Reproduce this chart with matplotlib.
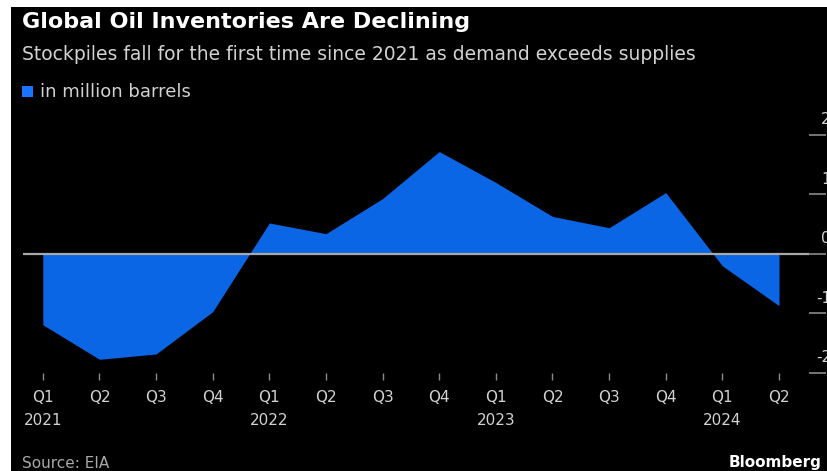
"""Global oil inventories: quarterly stock change area chart (Bloomberg style)."""

import matplotlib.pyplot as plt
from matplotlib.patches import Rectangle

quarters = ["Q1", "Q2", "Q3", "Q4"] * 3 + ["Q1", "Q2"]
years = ["2021", "", "", "", "2022", "", "", "", "2023", "", "", "", "2024", ""]
stock_change = [-1.19, -1.77, -1.68, -0.97, 0.52, 0.34, 0.93, 1.72,
                1.20, 0.63, 0.44, 1.03, -0.20, -0.87]
y_ticks = [-2, -1, 0, 1, 2]

BLUE = "#0a66e4"
TEXT = "#d2d2d2"
GREY = "#8a8a8a"

W, H = 827, 471
fig = plt.figure(figsize=(W / 100, H / 100), dpi=100, facecolor="white")
# black card, with the thin white margin at top/left seen in the screenshot
fig.patches.append(Rectangle((11 / W, 0), 1, (H - 7) / H, transform=fig.transFigure,
                             facecolor="black", edgecolor="none", zorder=-10))

ax = fig.add_axes([23 / W, (H - 373) / H, (809 - 23) / W, (373 - 117) / H])
ax.set_zorder(2)
ax.set_facecolor("none")
x = list(range(len(stock_change)))
ax.fill_between(x, stock_change, 0, color=BLUE, linewidth=0, zorder=2)
ax.axhline(0, color="#a8a8a8", linewidth=1.6, zorder=3)

ax.set_xlim(-0.35, 13.53)
ax.set_ylim(-2.0, 2.3)
for s in ax.spines.values():
    s.set_visible(False)

ax.set_xticks(x)
ax.set_xticklabels([f"{q}\n{y}" for q, y in zip(quarters, years)],
                   color=TEXT, fontsize=11, linespacing=1.7)
ax.tick_params(axis="x", length=5, width=1, color=GREY, pad=7)

ax.yaxis.tick_right()
ax.set_yticks(y_ticks)
ax.tick_params(axis="y", length=12.5, width=1.2, color=GREY, labelright=False)
# labels sit above their tick line, right-aligned just past the picture edge
for v in y_ticks:
    ax.annotate(f"{v}", xy=(1, v), xycoords=("axes fraction", "data"),
                xytext=(22, 15), textcoords="offset pixels",
                ha="right", va="center", color=TEXT, fontsize=11,
                annotation_clip=False)

fig.text(22 / W, 1 - 22 / H, "Global Oil Inventories Are Declining",
         color="white", fontsize=16, fontweight="bold", va="center")
fig.text(22 / W, 1 - 55 / H,
         "Stockpiles fall for the first time since 2021 as demand exceeds supplies",
         color=TEXT, fontsize=13.5, va="center")
fig.patches.append(Rectangle((22 / W, 1 - 97 / H), 11 / W, 11 / H,
                             transform=fig.transFigure, facecolor="#1a74ff",
                             edgecolor="none"))
fig.text(40 / W, 1 - 92 / H, "in million barrels", color=TEXT, fontsize=13,
         va="center")
fig.text(22 / W, 1 - 463 / H, "Source: EIA", color="#a8a8a8", fontsize=11,
         va="center")
fig.text(822 / W, 1 - 462 / H, "Bloomberg", color="white", fontsize=11,
         fontweight="bold", va="center", ha="right")

fig.savefig("out.png", dpi=100, facecolor="white")
